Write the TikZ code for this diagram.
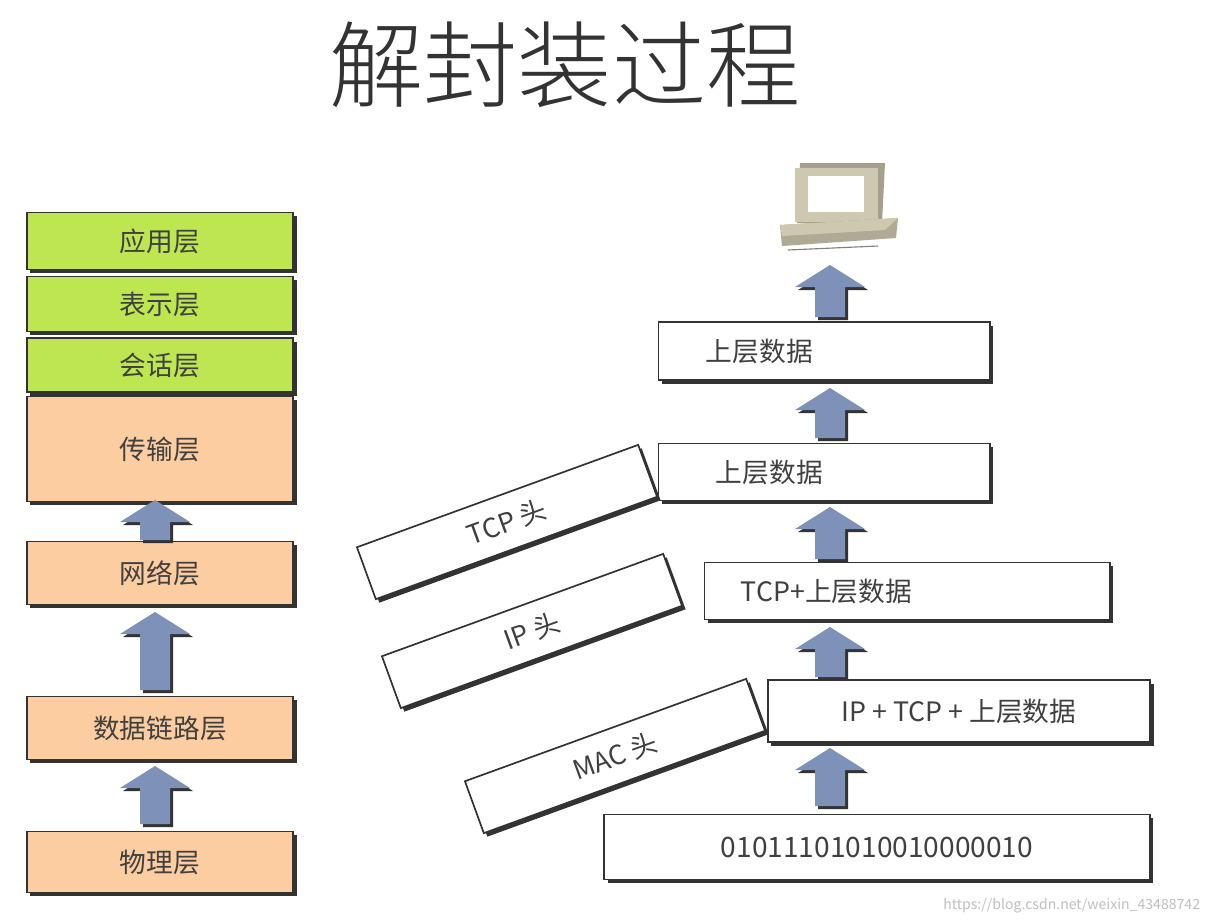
\documentclass[tikz,border=0pt]{standalone}
\usepackage{fontspec}
\setmainfont{Noto Sans CJK SC}
\newfontfamily\titlefont{Noto Sans CJK SC Light}
\usetikzlibrary{positioning,shadows}
\definecolor{layerGreen}{RGB}{190, 230, 80}
\definecolor{layerOrange}{RGB}{252, 205, 160}
\definecolor{arrowBlue}{RGB}{125, 145, 185}
\definecolor{pcBeige}{RGB}{205, 200, 175}

\begin{document}
\begin{tikzpicture}[
        x=0.025cm, y=-0.025cm,
        layer/.style={rectangle, draw=black!80, fill=#1, line width=1.2pt, minimum width=6.65cm, font=\fontsize{19}{20}\selectfont, text=black!75,
            drop shadow={shadow xshift=2.5pt, shadow yshift=-2.5pt, fill=black!80, opacity=1}},
        pdu/.style={rectangle, draw=black!80, fill=white, line width=1.2pt, font=\fontsize{19}{20}\selectfont, text=black!75,
            drop shadow={shadow xshift=2.5pt, shadow yshift=-2.5pt, fill=black!80, opacity=1}},
        hdr/.style={pdu, rotate=20, minimum width=7.48cm, minimum height=1.38cm},
        pics/uparr/.style={code={
            \fill[black!80] (3,3) -- (38,25) -- (18,25) -- (18,#1+3) -- (-12,#1+3) -- (-12,25) -- (-32,25) -- cycle;
            \fill[arrowBlue] (0,0) -- (35,22) -- (15,22) -- (15,#1) -- (-15,#1) -- (-15,22) -- (-35,22) -- cycle;
        }}
    ]
        \useasboundingbox (0,0) rectangle (1209,923);
        \fill[white] (0,0) rectangle (1209,923);

        % Title
        \node[font=\titlefont\fontsize{67}{70}\selectfont, text=black!80] (title) at (565,65) {解封装过程};

        % OSI layers
        \node[layer=layerGreen, minimum height=1.43cm] (app) at (160,241) {应用层};
        \node[layer=layerGreen, minimum height=1.38cm] (pre) at (160,304) {表示层};
        \node[layer=layerGreen, minimum height=1.35cm] (ses) at (160,365) {会话层};
        \node[layer=layerOrange, minimum height=2.63cm] (tra) at (160,449) {传输层};
        \node[layer=layerOrange, minimum height=1.58cm] (net) at (160,573) {网络层};
        \node[layer=layerOrange, minimum height=1.58cm] (dat) at (160,728) {数据链路层};
        \node[layer=layerOrange, minimum height=1.53cm] (phy) at (160,862) {物理层};

        \pic at (155,500) {uparr=40};
        \pic at (155,612) {uparr=78};
        \pic at (155,766) {uparr=58};

        % Computer
        \fill[pcBeige!80!black] (800,163) -- (885,163) -- (882,223) -- (797,223) -- cycle;
        \fill[pcBeige] (795,168) -- (878,168) -- (878,222) -- (795,222) -- cycle;
        \fill[white] (808,176) rectangle (864,212);
        \fill[pcBeige!85!black] (780,225) -- (898,218) -- (896,238) -- (782,246) -- cycle;
        \fill[pcBeige] (780,225) -- (898,218) -- (885,230) -- (782,236) -- cycle;
        \draw[black!50, line width=0.8pt] (788,250) -- (878,246);

        % Data units
        \node[pdu, minimum width=8.28cm, minimum height=1.45cm, text width=5.9cm, align=left, inner xsep=1.14cm] (d1) at (824,351) {上层数据};
        \node[pdu, minimum width=8.28cm, minimum height=1.43cm, text width=5.4cm, align=left, inner xsep=1.4cm] (d2) at (824,472) {上层数据};
        \node[pdu, minimum width=10.13cm, minimum height=1.43cm, text width=8.3cm, align=left, inner xsep=0.85cm] (d3) at (907,591) {TCP+上层数据};
        \node[pdu, minimum width=9.55cm, minimum height=1.55cm] (d4) at (959,711) {IP + TCP + 上层数据};
        \node[pdu, minimum width=13.63cm, minimum height=1.63cm] (d5) at (877,847) {\fontsize{20}{22}\selectfont 01011101010010000010};

        \pic at (830,265) {uparr=52};
        \pic at (830,388) {uparr=50};
        \pic at (830,507) {uparr=52};
        \pic at (830,627) {uparr=50};
        \pic at (830,748) {uparr=58};

        % Headers
        \node[hdr] (tcp) at (507,522) {TCP 头};
        \node[hdr] (ip) at (532,631) {IP 头};
        \node[hdr] (mac) at (615,756) {MAC 头};

        \node[font=\fontsize{10}{12}\selectfont, text=black!25, anchor=south east] (mark) at (1205,918) {https://blog.csdn.net/weixin\_43488742};
    \end{tikzpicture}
\end{document}
